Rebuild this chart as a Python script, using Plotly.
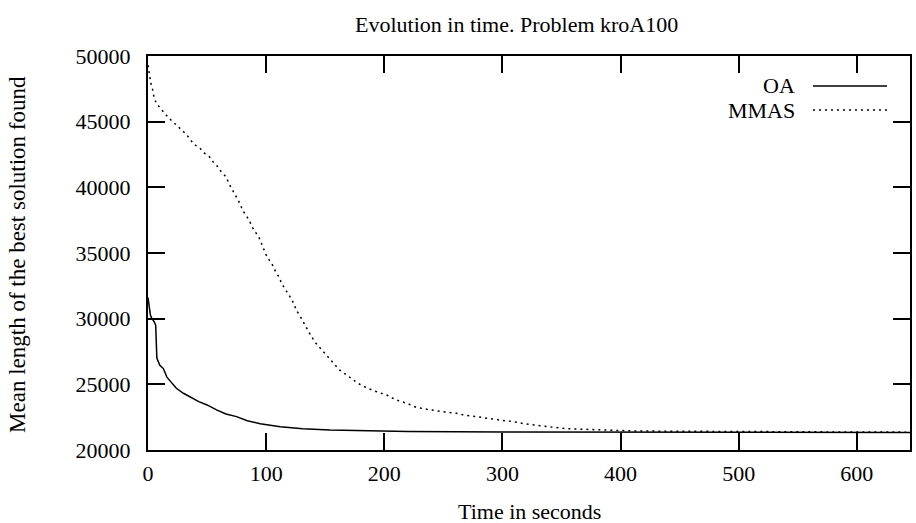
import plotly.graph_objects as go

# Time in seconds and mean best length
oa_t = [0, 1, 2, 3, 5, 6.5, 7, 7.5, 10, 13, 16, 20, 24, 30, 37, 43, 50, 58, 66, 75, 84, 95,
        112, 131, 154, 194, 220, 300, 400, 500, 645]
oa_v = [31600, 30900, 30300, 30050, 29800, 29500, 28000, 27000, 26450, 26200, 25550, 25150,
        24700, 24320, 23940, 23680, 23430, 23050, 22740, 22540, 22230, 22000, 21770, 21620,
        21520, 21450, 21400, 21370, 21360, 21350, 21340]

mmas_t = [0, 1, 2.5, 4, 5, 7, 10, 14, 18, 21, 25, 28, 33, 36, 40, 44, 48, 52, 55, 59, 62, 66,
          69, 74, 78, 80, 83, 86, 88, 91, 94, 96, 98, 100, 103, 106, 108, 111, 113, 116, 119,
          122, 124, 126, 129, 132, 136, 141, 148, 155, 162, 172, 178, 186, 193, 202, 210, 219,
          227, 236, 244, 253, 261, 270, 278, 287, 298, 309, 320, 332, 343, 354, 368, 382, 396,
          411, 422, 450, 500, 550, 600, 645]
mmas_v = [49300, 48600, 47900, 47400, 46900, 46400, 46050, 45650, 45250, 45000, 44620, 44360,
          43980, 43600, 43220, 42970, 42590, 42330, 41950, 41570, 41190, 40810, 40200, 39400,
          38730, 38270, 37840, 37440, 37000, 36580, 36170, 35740, 35300, 34850, 34400, 34000,
          33580, 33150, 32690, 32260, 31860, 31420, 30990, 30580, 30160, 29650, 29010, 28250,
          27550, 26850, 26100, 25460, 25060, 24700, 24450, 24190, 23810, 23560, 23250, 23100,
          22970, 22870, 22790, 22620, 22540, 22410, 22280, 22160, 21980, 21850, 21730, 21620,
          21580, 21520, 21500, 21450, 21440, 21420, 21390, 21380, 21370, 21360]

x_ticks = [0, 100, 200, 300, 400, 500, 600]
y_ticks = [20000, 25000, 30000, 35000, 40000, 45000, 50000]

FONT = "Liberation Serif"
FS = 22
TXT = dict(family=FONT, size=FS, color="black")

fig = go.Figure()
fig.add_trace(go.Scatter(x=oa_t, y=oa_v, mode="lines", name="OA",
                         line=dict(color="black", width=1.5)))
fig.add_trace(go.Scatter(x=mmas_t, y=mmas_v, mode="lines", name="MMAS",
                         line=dict(color="black", width=1.5, dash="2px,4px")))

axis_common = dict(showline=True, linecolor="black", linewidth=2, mirror="ticks",
                   ticks="inside", ticklen=17, tickwidth=2, tickcolor="black",
                   showgrid=False, zeroline=False, automargin=False,
                   tickfont=TXT)

fig.update_xaxes(range=[0, 645], tickvals=x_ticks, ticktext=[str(v) for v in x_ticks],
                 ticklabelstandoff=3, **axis_common)
fig.update_yaxes(range=[20000, 50000], tickvals=y_ticks, ticktext=[str(v) for v in y_ticks],
                 ticklabelstandoff=11, **axis_common)

# titles as annotations (paper coords)
fig.add_annotation(x=0.483, y=1.0787, xref="paper", yref="paper",
                   text="Evolution in time. Problem kroA100", showarrow=False,
                   xanchor="center", yanchor="middle", font=TXT)
fig.add_annotation(x=0.501, y=-0.155, xref="paper", yref="paper",
                   text="Time in seconds", showarrow=False,
                   xanchor="center", yanchor="middle", font=TXT)
fig.add_annotation(x=-0.1706, y=0.495, xref="paper", yref="paper",
                   text="Mean length of the best solution found", showarrow=False,
                   textangle=-90, xanchor="center", yanchor="middle",
                   font=dict(family=FONT, size=23, color="black"))

# legend (gnuplot style: text on the left, sample on the right)
legend_items = [("OA", "solid", 0.9239), ("MMAS", "2px,4px", 0.8629)]
for name, dash, yp in legend_items:
    fig.add_annotation(x=0.8517, y=yp, xref="paper", yref="paper", text=name,
                       showarrow=False, xanchor="right", yanchor="middle", font=TXT)
    fig.add_shape(type="line", xref="paper", yref="paper", x0=0.8727, x1=0.9698, y0=yp, y1=yp,
                  line=dict(color="black", width=1.5, dash=dash))

fig.update_layout(
    width=916, height=523,
    margin=dict(l=148, r=6, t=56, b=73, autoexpand=False),
    paper_bgcolor="white", plot_bgcolor="white",
    showlegend=False,
)

fig.write_html("out.html", config={"displayModeBar": False},
               post_script="document.body.style.margin='0';document.body.style.overflow='hidden';")
